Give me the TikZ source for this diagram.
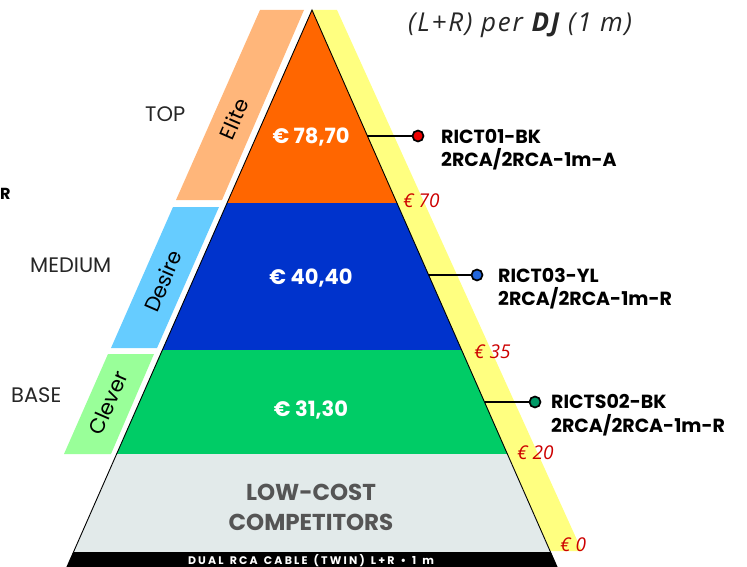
\documentclass[tikz,border=0pt]{standalone}
\usepackage{fontspec}
\setmainfont{Poppins}
\newfontfamily\titlefont{Open Sans}
\definecolor{cOrange}{HTML}{FF6600}
\definecolor{cBlue}{HTML}{0033CC}
\definecolor{cGreen}{HTML}{00CC66}
\definecolor{cGray}{HTML}{E2EAEA}
\definecolor{cPeach}{HTML}{FFB67A}
\definecolor{cLBlue}{HTML}{66CCFF}
\definecolor{cLGreen}{HTML}{99FF99}
\definecolor{cYellow}{HTML}{FFFF80}
\definecolor{cRed}{HTML}{CC0000}
\definecolor{cDotR}{HTML}{EE0000}
\definecolor{cDotB}{HTML}{2266DD}
\definecolor{cDotG}{HTML}{009966}
\definecolor{cDark}{HTML}{555555}
\newcommand{\wsp}{\hspace{0.55em}}
\tikzset{
  x=1pt, y=-1pt,
  tier/.style={font=\fontsize{21}{24}\selectfont, text=black!85, anchor=base west, inner sep=0pt},
  band/.style={font=\fontsize{21}{24}\selectfont, text=black, rotate=66.5, inner sep=0pt},
  price/.style={font=\bfseries\fontsize{21}{24}\selectfont, text=white, anchor=base, inner sep=0pt},
  scalemark/.style={font=\titlefont\itshape\fontsize{19}{22}\selectfont, text=cRed, anchor=base west, inner sep=0pt},
  dotnode/.style={circle, inner sep=0pt, minimum size=11pt, draw=black, line width=1.7pt},
  lead/.style={line width=2.4pt, black},
  prod/.style={font=\bfseries\fontsize{19}{22}\selectfont, anchor=base west, inner sep=0pt},
}
\begin{document}
\begin{tikzpicture}
\useasboundingbox (0,0) rectangle (747,567);
% yellow strip
\fill[cYellow] (312,10) -- (337,10) -- (582,551) -- (550,551) -- cycle;
% left parallelograms
\fill[cPeach] (260,10) -- (304,10) -- (222,200) -- (176,200) -- cycle;
\fill[cLBlue] (173,207) -- (219,207) -- (157,348) -- (111,348) -- cycle;
\fill[cLGreen] (108,354) -- (154,354) -- (111,454) -- (64,454) -- cycle;
% pyramid bands
\fill[cOrange] (312,10) -- (396.9,203) -- (227.1,203) -- cycle;
\fill[cBlue] (227.1,203) -- (396.9,203) -- (461.6,350) -- (162.4,350) -- cycle;
\fill[cGreen] (162.4,350) -- (461.6,350) -- (507.4,454) -- (116.6,454) -- cycle;
\fill[cGray] (116.6,454) -- (507.4,454) -- (550.5,552) -- (73.5,552) -- cycle;
\fill[black] (73.5,552) -- (550.5,552) -- (557.1,567) -- (66.9,567) -- cycle;
\draw[line width=0.9pt] (66.9,567) -- (312,10) -- (557.1,567);
% title
\node[font=\titlefont\itshape\fontsize{26}{29}\selectfont\addfontfeatures{LetterSpace=7}, text=black!85, anchor=base west, inner sep=0pt] (title) at (408,32) {(L+R) per \textbf{DJ} (1 m)};
\node[font=\bfseries\fontsize{16}{18}\selectfont, anchor=base west, inner sep=0pt] (frag) at (0,199) {R};
% tier names
\node[tier] (top) at (145,122) {TOP};
\node[tier] (medium) at (30,272) {MEDIUM};
\node[tier] (base) at (11,402) {BASE};
% band names
\node[band] (elite) at (234,119) {Elite};
\node[band] (desire) at (163,281) {Desire};
\node[band] (clever) at (108,403) {Clever};
% prices
\node[price] (p1) at (311,143) {€ 78,70};
\node[price] (p2) at (311,284) {€ 40,40};
\node[price] (p3) at (311,416) {€ 31,30};
\node[font=\bfseries\fontsize{23}{26}\selectfont, text=cDark, anchor=base, inner sep=0pt] (low1) at (311,500) {LOW-COST};
\node[font=\bfseries\fontsize{23}{26}\selectfont, text=cDark, anchor=base, inner sep=0pt] (low2) at (311,530) {COMPETITORS};
\node[font=\bfseries\fontsize{11}{13}\selectfont\addfontfeatures{LetterSpace=20}, text=white, anchor=base, inner sep=0pt] (strip) at (311,564.5) {DUAL\wsp RCA\wsp CABLE\wsp (TWIN)\wsp L+R\wsp •\wsp 1\wsp m};
% scale marks
\node[scalemark] (m70) at (403,207) {€ 70};
\node[scalemark] (m35) at (474,358) {€ 35};
\node[scalemark] (m20) at (517,459) {€ 20};
\node[scalemark] (m0) at (560,551) {€ 0};
% leaders
\coordinate (e1) at (367.4,136);
\coordinate (e2) at (428.6,275);
\coordinate (e3) at (484.5,402);
\node[dotnode, fill=cDotR] (d1) at (418,136) {};
\node[dotnode, fill=cDotB] (d2) at (477,275) {};
\node[dotnode, fill=cDotG] (d3) at (535,402) {};
\draw[lead] (e1) -- (d1);
\draw[lead] (e2) -- (d2);
\draw[lead] (e3) -- (d3);
\node[prod] (l1a) at (441,143) {RICT01-BK};
\node[prod] (l1b) at (441,167) {2RCA/2RCA-1m-A};
\node[prod] (l2a) at (498,282) {RICT03-YL};
\node[prod] (l2b) at (498,305) {2RCA/2RCA-1m-R};
\node[prod] (l3a) at (551,408) {RICTS02-BK};
\node[prod] (l3b) at (551,432) {2RCA/2RCA-1m-R};
\end{tikzpicture}
\end{document}
